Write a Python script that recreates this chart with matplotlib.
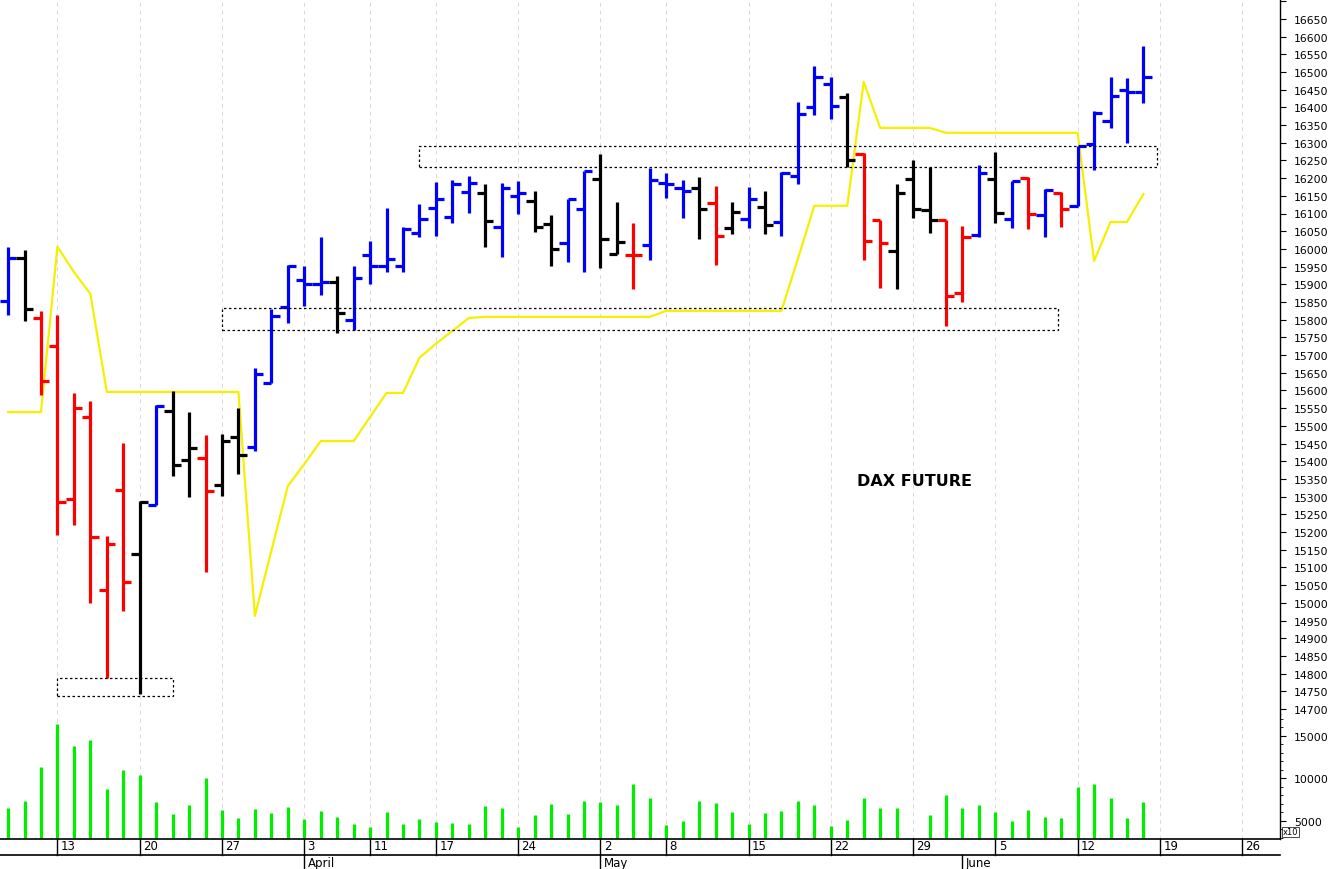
import matplotlib
matplotlib.use("Agg")
import matplotlib.pyplot as plt
import numpy as np
from matplotlib.ticker import MultipleLocator
from matplotlib.patches import Rectangle
from matplotlib.transforms import blended_transform_factory

# ---- data ----
opens = [15853,15975,15805,15726,15294,15525,15036,15319,15138,15277,15542,15404,15409,15333,15469,
         15440,15621,15836,15912,15901,15907,15799,15983,15952,15952,16045,16116,16090,16161,16158,
         16062,16150,16136,16071,16017,16113,16198,15986,15983,16011,16187,16172,16172,16130,16059,
         16085,16119,16076,16206,16401,16466,16430,16268,16082,15994,16198,16110,16082,15876,16039,
         16198,16085,16201,16096,16158,16122,16297,16362,16449,16444]
highs = [16006,15997,15825,15813,15593,15570,15189,15452,15288,15559,15599,15539,15474,15477,15551,
         15664,15830,15955,15952,16034,15924,15952,16023,16116,16062,16127,16189,16195,16206,16184,
         16187,16192,16164,16096,16141,16220,16268,16133,16074,16229,16215,16195,16203,16178,16133,
         16175,16164,16218,16415,16517,16486,16441,16271,16082,16184,16251,16232,16082,16065,16237,
         16274,16192,16203,16170,16161,16291,16390,16486,16483,16574]
lows = [15813,15797,15587,15192,15220,15000,14788,14977,14742,15277,15359,15299,15087,15302,15364,
        15429,15621,15791,15839,15870,15763,15771,15901,15935,15935,16034,16037,16074,16102,16006,
        15977,16099,16048,15952,15963,15935,15946,15986,15887,15969,16144,16088,16028,15955,16042,
        16059,16042,16037,16183,16379,16367,16232,15969,15890,15887,16088,16045,15782,15850,16034,
        16074,16059,16057,16034,16062,16122,16223,16342,16300,16413]
closes = [15975,15830,15627,15285,15551,15186,15166,15059,15285,15556,15390,15438,15316,15457,15418,
          15647,15811,15952,15901,15907,15819,15918,15952,15971,16057,16085,16141,16184,16187,16079,
          16172,16158,16062,16000,16141,16220,16028,16020,15983,16195,16184,16164,16113,16037,16105,
          16141,16068,16215,16381,16486,16404,16251,16023,16017,16158,16113,16082,15867,16034,16215,
          16102,16192,16099,16167,16113,16291,16384,16432,16444,16486]
bar_colors = list("bkrrrrrrkbkkrkkbbbbbkbbbbbbbbkbbkkbbkkrbbbkrkbkbbbbkrrkkkrrbkbrbrbbbbb")
stop_line = [15539,15539,15539,16006,15935,15873] + [15596]*9 + [14963,15147,15330,15392,15457,15457,15457,
             15525,15593,15593,15692,15732,15768,15805] + [15808]*11 + [15825]*8 + [15972,16122,16122,16122,
             16472,16342,16342,16342,16342] + [16328]*9 + [15966,16076,16076,16155]
volume = [6460,7350,11280,16370,13820,14490,8730,10960,10340,7230,5790,6850,9990,6220,5320,
          6340,5900,6570,5160,6100,5440,4610,4290,5980,4610,5200,4850,4730,4650,6730,
          6460,4290,5640,6930,5790,7350,7230,6850,9280,7670,4460,4960,7350,7050,5980,
          4610,5870,6180,7280,6880,4380,5050,7670,6530,6530,3000,5640,8020,6530,6850,
          5980,4960,6220,5400,5280,8930,9280,7670,5280,7230]
week_labels = ["13","20","27","3","11","17","24","2","8","15","22","29","5","12","19","26"]
week_index = [3,8,13,18,22,26,31,36,40,45,50,55,60,65,70,75]
month_labels = ["April","May","June"]
month_index = [18,36,58]
zones = [(3,10,14737,14788),(13,63.8,15771,15834),(25,69.8,16232,16291)]

cmap = {"b": "#0000ff", "r": "#ff0000", "k": "#000000"}

fig = plt.figure(figsize=(13.28, 8.7), dpi=100)
W, H = 1328, 870
axp = fig.add_axes([0, 1-715/H, 1280/W, 715/H])
axv = fig.add_axes([0, 1-840/H, 1280/W, 125/H], sharex=axp)

n = len(opens)
x = np.arange(n)
for i in range(n):
    c = cmap[bar_colors[i]]
    axp.vlines(x[i], lows[i], highs[i], color=c, lw=2.3, zorder=3)
    axp.hlines(opens[i], x[i]-0.5, x[i], color=c, lw=2.3, zorder=3)
    axp.hlines(closes[i], x[i], x[i]+0.5, color=c, lw=2.3, zorder=3)
axp.plot(x, stop_line, color="#f5f000", lw=1.6, zorder=2)
for x0, x1, y0, y1 in zones:
    axp.add_patch(Rectangle((x0, y0), x1-x0, y1-y0, fill=False, ls=(0, (2, 2)), lw=0.9, ec="black", zorder=4))
axp.text(55.1, 15347, "DAX FUTURE", fontsize=11.5, fontweight="bold", ha="center", va="center")

axv.vlines(x, 0, volume, color="#00ee00", lw=2.3)

xmin, xmax = -0.49, 77.3
axp.set_xlim(xmin, xmax)
axp.set_ylim(14686, 16706)
axv.set_ylim(2850, 17550)

for ax in (axp, axv):
    for wi in week_index:
        ax.axvline(wi, color="#d8d8d8", lw=0.7, ls=(0, (4, 4)), zorder=0)
    for s in ("top", "left"):
        ax.spines[s].set_visible(False)
    ax.spines["right"].set_linewidth(1.0)
    ax.yaxis.tick_right()
    ax.tick_params(axis="x", bottom=False, labelbottom=False)
    ax.tick_params(axis="y", direction="out", length=4, labelsize=7.8, pad=6, width=0.8)
    ax.tick_params(axis="y", which="minor", length=2, width=0.6)
axp.spines["bottom"].set_visible(False)
axv.spines["bottom"].set_linewidth(1.2)
axp.yaxis.set_major_locator(MultipleLocator(50))
axp.yaxis.set_major_formatter(matplotlib.ticker.FuncFormatter(lambda v, p: f"{int(v)}" if 14700 <= v <= 16650 else ""))
axv.yaxis.set_major_locator(matplotlib.ticker.FixedLocator([5000, 10000, 15000]))
axv.yaxis.set_minor_locator(MultipleLocator(1000))
axv.text(1.002, 0.02, "x10", transform=axv.transAxes, fontsize=6, va="bottom", ha="left",
         bbox=dict(boxstyle="square,pad=0.1", fc="white", ec="black", lw=0.5))

# bottom date axis
tr = blended_transform_factory(axv.transData, fig.transFigure)
y840, y856, y870 = 1-840/H, 1-856/H, 0.0
fig.add_artist(plt.Line2D([0, 1280/W], [y856, y856], transform=fig.transFigure, color="black", lw=1.2))
for lab, wi in zip(week_labels, week_index):
    fig.add_artist(plt.Line2D([wi, wi], [y856, y840], transform=tr, color="black", lw=1))
    axv.text(wi+0.2, y840-0.0005, lab, transform=tr, fontsize=8.5, va="top", ha="left")
for lab, mi in zip(month_labels, month_index):
    fig.add_artist(plt.Line2D([mi, mi], [y870, y856], transform=tr, color="black", lw=1))
    axv.text(mi+0.2, y856-0.001, lab, transform=tr, fontsize=8.5, va="top", ha="left")

fig.savefig("out.png", dpi=100)
